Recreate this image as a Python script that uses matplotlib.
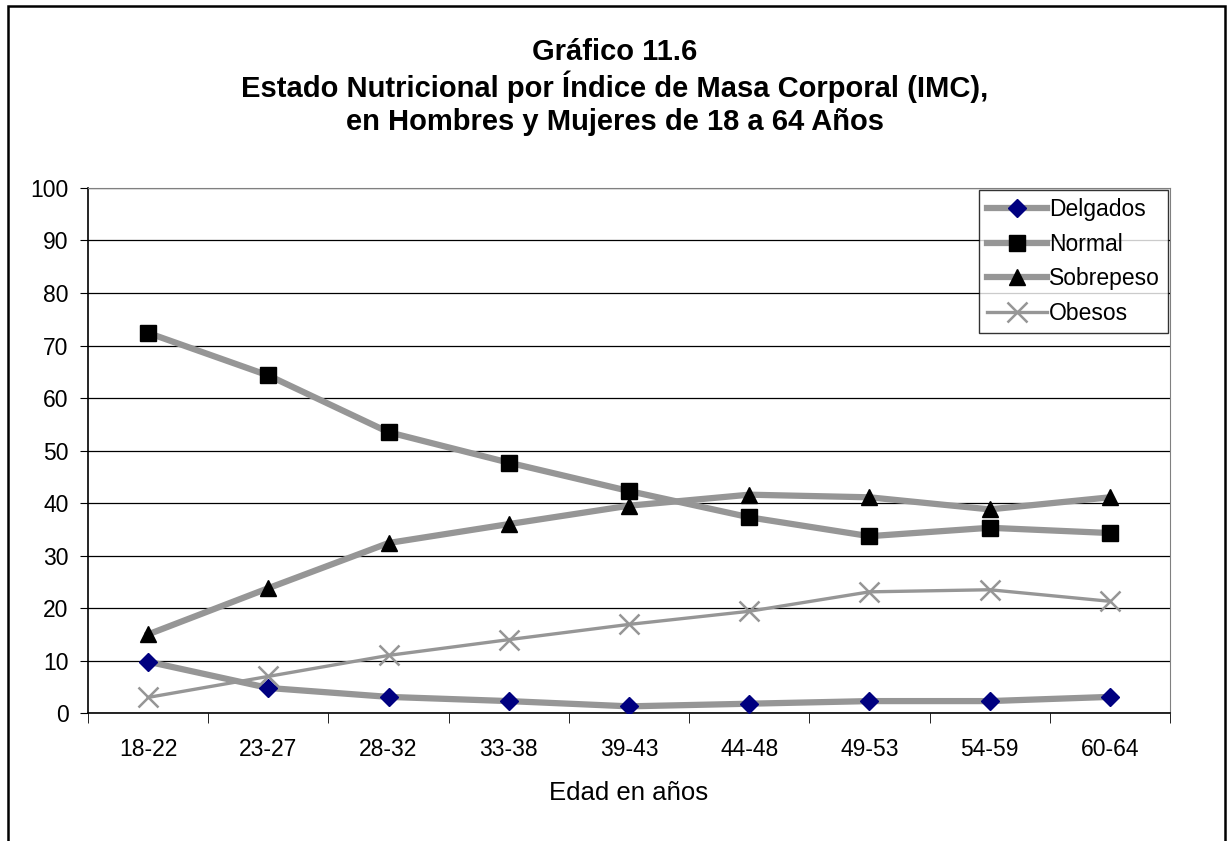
import matplotlib
matplotlib.use("Agg")
import matplotlib.pyplot as plt
from matplotlib.patches import Rectangle
import numpy as np

plt.rcParams['font.family'] = ['Liberation Sans', 'DejaVu Sans']

# Age groups and percentages per nutritional status
edades = ["18-22", "23-27", "28-32", "33-38", "39-43", "44-48", "49-53", "54-59", "60-64"]
delgados = [9.8, 4.8, 3.1, 2.3, 1.3, 1.8, 2.3, 2.3, 3.1]
normal = [72.4, 64.3, 53.5, 47.7, 42.3, 37.3, 33.7, 35.3, 34.3]
sobrepeso = [15.0, 23.8, 32.4, 36.0, 39.5, 41.6, 41.1, 38.8, 41.1]
obesos = [3.0, 7.0, 11.0, 14.0, 16.9, 19.4, 23.1, 23.5, 21.3]

gris = "#969696"

fig = plt.figure(figsize=(12.29, 8.41), dpi=100)
ax = fig.add_axes([0.0716, 0.152, 0.8804, 0.6245])

x = np.arange(len(edades))
ax.plot(x, delgados, color=gris, lw=4.5, marker="D", ms=9, mfc="#000080", mec="#000080",
        label="Delgados", zorder=3)
ax.plot(x, normal, color=gris, lw=4.5, marker="s", ms=11, mfc="black", mec="black",
        label="Normal", zorder=3)
ax.plot(x, sobrepeso, color=gris, lw=4.5, marker="^", ms=11, mfc="black", mec="black",
        label="Sobrepeso", zorder=3)
ax.plot(x, obesos, color=gris, lw=2.4, marker="x", ms=14, mew=1.8, mec=gris,
        label="Obesos", zorder=3)

ax.set_xlim(-0.5, len(edades) - 0.5)
ax.set_ylim(0, 100)
ax.set_yticks(np.arange(0, 101, 10))
ax.set_xticks(x)
ax.set_xticklabels(edades)
ax.set_xticks(np.arange(-0.5, len(edades), 1), minor=True)
ax.tick_params(axis="x", which="major", length=0, pad=18, labelsize=16.5)
ax.tick_params(axis="x", which="minor", length=7, direction="out", color="black")
ax.tick_params(axis="y", length=6, direction="out", labelsize=16.5, pad=8)
ax.grid(axis="y", color="black", lw=0.9)
ax.set_axisbelow(True)
for s in ["top", "right"]:
    ax.spines[s].set_color("#808080")
for s in ["left", "bottom"]:
    ax.spines[s].set_color("black")
    ax.spines[s].set_linewidth(1.2)

ax.set_xlabel("Edad en años", fontsize=18.5, labelpad=14)

leg = ax.legend(loc="upper right", fontsize=16.5, frameon=True, fancybox=False,
                edgecolor="black", handlelength=2.6, handletextpad=0.1,
                borderaxespad=0.1, labelspacing=0.5, borderpad=0.35)
leg.get_frame().set_linewidth(1.0)

fig.text(0.5, 0.897,
         "Gráfico 11.6\nEstado Nutricional por Índice de Masa Corporal (IMC),\n"
         "en Hombres y Mujeres de 18 a 64 Años",
         ha="center", va="center", fontsize=21, fontweight="bold", linespacing=1.2)

# outer chart frame
fig.patches.append(Rectangle((0.0065, -0.05), 0.99, 1.043, transform=fig.transFigure,
                             fill=False, edgecolor="black", lw=1.8, clip_on=False))

fig.savefig("out.png", dpi=100)
